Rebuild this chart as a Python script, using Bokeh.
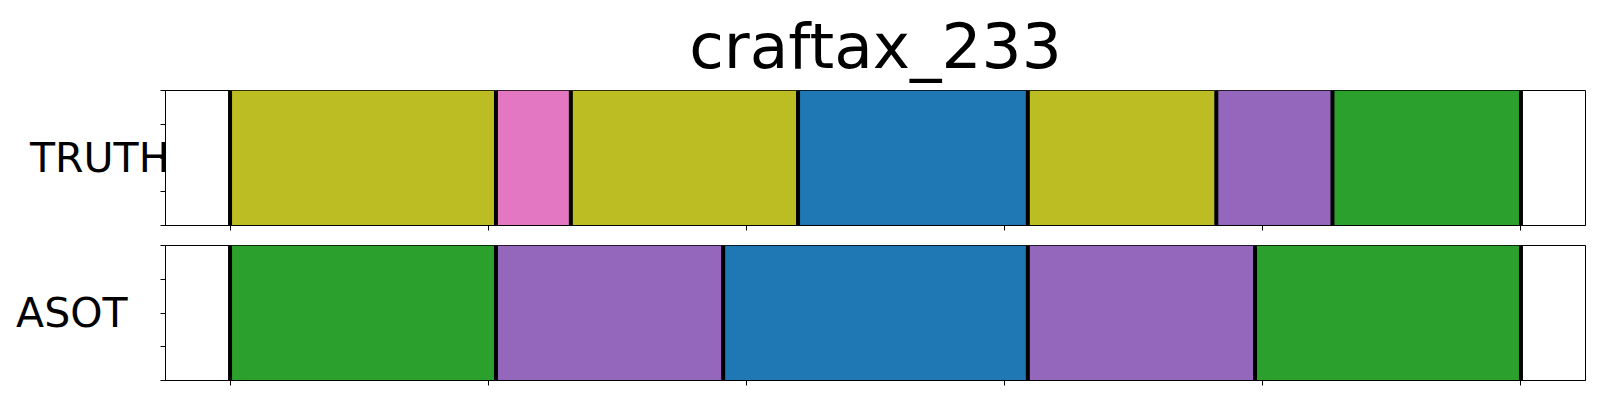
from bokeh.plotting import figure
from bokeh.models import FixedTicker, Range1d, CustomLabelingPolicy, LinearAxis, Title
from bokeh.layouts import column
from bokeh.embed import file_html
from bokeh.resources import INLINE

chart_title = "craftax_233"
row_names = ["TRUTH", "ASOT"]
truth_bounds = [0, 103, 132, 220, 309, 382, 427, 500]
truth_colors = ["#bcbd22", "#e377c2", "#bcbd22", "#1f77b4", "#bcbd22", "#9467bd", "#2ca02c"]
asot_bounds = [0, 103, 191, 309, 397, 500]
asot_colors = ["#2ca02c", "#9467bd", "#1f77b4", "#9467bd", "#2ca02c"]
x_ticks = [0, 100, 200, 300, 400, 500]
y_ticks = [0, 0.25, 0.5, 0.75, 1.0]

FONT = "DejaVu Sans"

hide_all = CustomLabelingPolicy(code="""
    for (const i of [...indices]) indices.unset(i)
    return indices
""")


def make_row(name, bounds, colors, label_standoff, with_title):
    p = figure(
        frame_width=1420, frame_height=135,
        x_range=Range1d(-25, 525), y_range=Range1d(0, 1),
        output_backend="svg", toolbar_location=None, title=None,
        min_border_left=165, min_border_right=6,
        min_border_top=90 if with_title else 10,
        min_border_bottom=10,
    )
    p.quad(left=bounds[:-1], right=bounds[1:], bottom=0, top=1,
           fill_color=colors, line_color=None)
    p.segment(x0=bounds, x1=bounds, y0=0, y1=1, line_color="black", line_width=4)
    p.grid.visible = False
    p.outline_line_color = "black"
    p.outline_line_width = 1
    p.outline_line_alpha = 1
    xax = p.below[0]
    yax = p.left[0]
    for ax, ticks in ((xax, x_ticks), (yax, y_ticks)):
        ax.ticker = FixedTicker(ticks=ticks)
        ax.major_label_overrides = {t: "" for t in ticks}
        ax.major_label_policy = hide_all
        ax.major_label_standoff = 0
        ax.major_tick_out = 5
        ax.major_tick_in = 0
        ax.minor_tick_out = 0
        ax.minor_tick_in = 0
        ax.major_tick_line_color = "black"
        ax.major_tick_line_width = 1
        ax.axis_line_color = "black"
        ax.axis_line_width = 1
    yax.axis_label = name
    yax.axis_label_orientation = "horizontal"
    yax.axis_label_text_font = FONT
    yax.axis_label_text_font_size = "41px"
    yax.axis_label_text_font_style = "normal"
    yax.axis_label_text_color = "black"
    yax.axis_label_standoff = label_standoff

    if with_title:
        # invisible spacer axis between the frame and the title
        spacer = LinearAxis(
            ticker=FixedTicker(ticks=[250]), axis_line_color=None,
            major_tick_line_color=None, minor_tick_line_color=None,
            major_tick_out=6, major_tick_in=0, minor_tick_out=0, minor_tick_in=0,
            major_label_overrides={250: ""}, major_label_text_font_size="1px",
            major_label_policy=hide_all, major_label_standoff=0,
        )
        p.add_layout(spacer, "above")
        t = Title(text=chart_title, text_font=FONT, text_font_size="63px",
                  text_font_style="normal", align="center", text_color="black",
                  standoff=4)
        p.add_layout(t, "above")
    return p


top = make_row(row_names[0], truth_bounds, truth_colors, -9, True)
bottom = make_row(row_names[1], asot_bounds, asot_colors, 33, False)

layout = column(top, bottom, spacing=0)
open("out.html", "w").write(file_html(layout, INLINE))
